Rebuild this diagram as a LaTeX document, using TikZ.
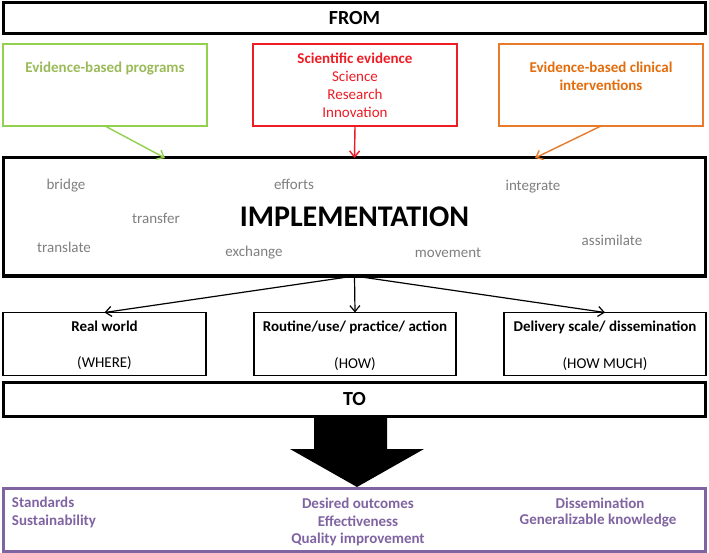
\documentclass[tikz,border=0pt]{standalone}
\usepackage{fontspec}
\setmainfont{Carlito}
\usetikzlibrary{arrows.meta}
\definecolor{grnline}{HTML}{92D050}
\definecolor{grntext}{HTML}{9BBB59}
\definecolor{redc}{HTML}{EE1C25}
\definecolor{orline}{HTML}{E87A2C}
\definecolor{ortext}{HTML}{E46C0A}
\definecolor{purp}{HTML}{8064A2}
\definecolor{grayw}{HTML}{7F7F7F}
\begin{document}
\begin{tikzpicture}[x=1pt,y=-1pt,
  every node/.style={inner sep=0pt, outer sep=0pt},
  bigbox/.style={draw=black, line width=3pt, minimum width=702pt},
  srcbox/.style={line width=1.4pt, minimum width=204pt, minimum height=82pt, align=center, font=\fontsize{15}{18}\selectfont},
  tobox/.style={draw=black, line width=1.4pt, minimum width=202pt, minimum height=63pt},
  word/.style={text=grayw, font=\fontsize{15}{16}\selectfont},
  boxtitle/.style={font=\fontsize{15}{16}\selectfont\bfseries},
  boxsub/.style={font=\fontsize{15}{16}\selectfont},
  outtext/.style={text=purp, font=\fontsize{15}{18}\selectfont\bfseries},
  arr/.style={line width=1.2pt, -{Straight Barb[length=6pt,width=10pt]}}
]
\useasboundingbox (0,0) rectangle (709,553);
\fill[white] (0,0) rectangle (709,553);

% FROM
\node[bigbox, minimum height=31pt, font=\fontsize{20}{22}\selectfont\bfseries] (from) at (354.5,18.5) {FROM};

% source boxes
\node[srcbox, draw=grnline, text=grntext, font=\fontsize{15}{18}\selectfont\bfseries] (green) at (105,85) {Evidence-based programs\\[18pt]~};
\node[srcbox, draw=redc, text=redc] (red) at (355,85) {\textbf{Scientific evidence}\\Science\\Research\\Innovation};
\node[srcbox, draw=orline, text=ortext, font=\fontsize{15}{18}\selectfont\bfseries] (orange) at (601,85) {Evidence-based clinical\\interventions\\~};

% implementation
\node[bigbox, minimum height=118pt] (impl) at (354.5,217) {};
\node[font=\fontsize{30}{34}\selectfont\bfseries] (implt) at (354.5,217) {IMPLEMENTATION};
\node[word] (w1) at (66,186) {bridge};
\node[word] (w2) at (294,184) {efforts};
\node[word] (w3) at (533,187) {integrate};
\node[word] (w4) at (156,218) {transfer};
\node[word] (w5) at (64,247) {translate};
\node[word] (w6) at (254,253) {exchange};
\node[word] (w7) at (448,253) {movement};
\node[word] (w8) at (612,240) {assimilate};

\coordinate (gin) at (165,158);
\coordinate (oin) at (535,158);
\draw[arr, draw=grnline, line width=1.4pt] (green.south) -- (gin);
\draw[arr, draw=redc, line width=1.4pt] (red.south) -- (impl.north);
\draw[arr, draw=orline, line width=1.4pt] (orange.south) -- (oin);

% three target boxes
\node[tobox, minimum width=203pt] (b1) at (104.5,344) {};
\node[tobox] (b2) at (355,344) {};
\node[tobox] (b3) at (605,344) {};
\node[boxtitle] (b1t) at (104.5,326) {Real world};
\node[boxsub] (b1s) at (104.5,363) {(WHERE)};
\node[boxtitle] (b2t) at (355,327) {Routine/use/ practice/ action};
\node[boxsub] (b2s) at (355,364) {(HOW)};
\node[boxtitle] (b3t) at (605,327) {Delivery scale/ dissemination};
\node[boxsub] (b3s) at (605,364) {(HOW MUCH)};

\draw[arr] (impl.south) -- (b1.north);
\draw[arr] (impl.south) -- (b2.north);
\draw[arr] (impl.south) -- (b3.north);

% TO
\node[bigbox, minimum height=34pt, font=\fontsize{20}{22}\selectfont\bfseries] (to) at (354.5,399.5) {TO};

% outcomes
\node[bigbox, draw=purp, minimum height=63pt] (out) at (354.5,519.5) {};
\node[outtext, anchor=west] (o1) at (12,502) {Standards};
\node[outtext, anchor=west] (o2) at (12,521) {Sustainability};
\node[outtext] (o3) at (358,503) {Desired outcomes};
\node[outtext] (o4) at (358,521) {Effectiveness};
\node[outtext] (o5) at (358,539) {Quality improvement};
\node[outtext] (o6) at (600,503) {Dissemination};
\node[outtext] (o7) at (598,521) {Generalizable knowledge};

% block arrow
\fill[black] (314,416) -- (387,416) -- (387,449) -- (424,449) -- (357,487) -- (290,449) -- (314,449) -- cycle;
\end{tikzpicture}
\end{document}
